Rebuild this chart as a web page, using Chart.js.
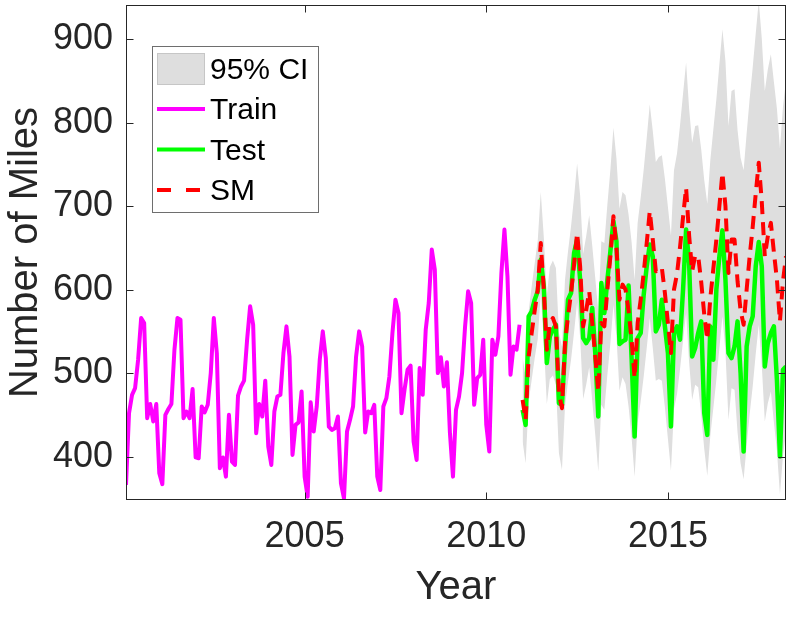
<!DOCTYPE html>
<html>
<head>
<meta charset="utf-8">
<title>Number of Miles</title>
<script src="https://cdn.jsdelivr.net/npm/chart.js@4.4.1/dist/chart.umd.min.js"></script>
<style>
  html, body { margin: 0; padding: 0; background: #fff; }
  #wrap { width: 787px; height: 617px; }
</style>
</head>
<body>
<div id="wrap"><canvas id="chartCanvas" width="787" height="617"></canvas></div>
<script>
// monthly values, train runs Feb 2000 - Dec 2010
var trainStart = 2000 + 1 / 12;
var trainMiles = [
  366, 452, 474, 482, 516, 566, 560, 446, 463, 442, 463, 380, 367, 450, 457, 463, 528, 566, 564, 446,
  454, 446, 481, 399, 398, 460, 453, 462, 500, 566, 524, 386, 399, 376, 450, 394, 390, 473, 484, 491,
  540, 580, 558, 428, 463, 448, 491, 412, 390, 454, 472, 474, 524, 556, 520, 402, 438, 441, 478, 376,
  352, 465, 430, 460, 516, 550, 518, 436, 432, 434, 448, 368, 350, 430, 444, 460, 520, 550, 532, 429,
  454, 452, 462, 376, 360, 460, 470, 496, 548, 588, 572, 452, 480, 504, 509, 418, 396, 506, 474, 552,
  584, 648, 624, 500, 519, 484, 513, 428, 376, 456, 472, 500, 556, 598, 584, 462, 494, 498, 540, 438,
  406, 540, 522, 544, 620, 672, 616, 498, 532, 528, 558
];

// test period Jan 2011 - Apr 2018
var testStart = 2011;
var testMiles = [
  456, 438, 568, 574, 588, 598, 636, 604, 512, 544, 552, 558, 464, 462, 528, 588, 596, 644, 660, 612,
  542, 536, 542, 578, 524, 448, 608, 572, 612, 646, 682, 658, 535, 538, 540, 605, 518, 424, 542, 548,
  594, 628, 654, 640, 550, 558, 588, 556, 524, 436, 548, 556, 540, 600, 672, 632, 520, 530, 548, 562,
  452, 426, 556, 516, 600, 640, 671, 612, 524, 518, 532, 562, 500, 406, 532, 556, 568, 628, 657, 628,
  508, 536, 548, 556, 492, 400, 504, 508
];
var smMiles = [
  468, 444, 520, 548, 575, 600, 656, 600, 528, 560, 566, 556, 476, 458, 536, 568, 596, 630, 668, 628,
  556, 575, 598, 560, 520, 478, 560, 556, 600, 640, 688, 650, 588, 606, 600, 575, 540, 494, 560, 588,
  620, 656, 694, 660, 622, 626, 626, 596, 560, 524, 600, 619, 651, 687, 722, 665, 622, 641, 640, 609,
  570, 540, 590, 625, 660, 700, 740, 700, 620, 660, 660, 610, 575, 558, 600, 640, 675, 715, 752, 705,
  640, 664, 680, 645, 612, 562, 610, 640
];
var ciUpper = [
  518, 496, 574, 604, 632, 659, 717, 663, 593, 627, 635, 626, 548, 532, 612, 646, 676, 711, 751, 713,
  643, 664, 689, 653, 614, 574, 658, 656, 702, 744, 794, 757, 697, 717, 713, 690, 657, 612, 680, 710,
  744, 782, 822, 790, 753, 759, 761, 733, 699, 665, 743, 763, 797, 835, 872, 817, 776, 796, 797, 768,
  731, 703, 755, 792, 828, 870, 912, 874, 796, 838, 840, 791, 758, 743, 787, 829, 866, 907, 946, 901,
  838, 864, 882, 849, 817, 769, 819, 851
];
var ciLower = [
  418, 392, 466, 492, 518, 541, 595, 537, 463, 493, 497, 486, 404, 384, 460, 490, 516, 549, 585, 543,
  469, 486, 507, 467, 426, 382, 462, 456, 498, 536, 582, 543, 479, 495, 487, 460, 423, 376, 440, 466,
  496, 530, 566, 530, 491, 493, 491, 459, 421, 383, 457, 475, 505, 539, 572, 513, 468, 486, 483, 450,
  409, 377, 425, 458, 492, 530, 568, 526, 444, 482, 480, 429, 392, 373, 413, 451, 484, 523, 558, 509,
  442, 464, 478, 441, 407, 355, 401, 429
];

var xTicks = [2005, 2010, 2015];
var yTicks = [400, 500, 600, 700, 800, 900];

var axisColor = '#262626';
var fontFamily = 'Arial, "Liberation Sans", Helvetica, sans-serif';

function toPoints(start, values) {
  return values.map(function (v, i) {
    return { x: start + i / 12, y: v };
  });
}

// box round the axes with inward ticks on all four sides
var axesBox = {
  id: 'axesBox',
  afterDatasetsDraw: function (chart) {
    var a = chart.chartArea, c = chart.ctx;
    var l = Math.round(a.left) + 0.5, r = Math.round(a.right) - 0.5;
    var t = Math.round(a.top) + 0.5, b = Math.round(a.bottom) - 0.5;
    c.save();
    c.strokeStyle = axisColor;
    c.lineWidth = 1;
    c.strokeRect(l, t, r - l, b - t);
    c.beginPath();
    chart.scales.x.ticks.forEach(function (tk) {
      var px = Math.round(chart.scales.x.getPixelForValue(tk.value)) + 0.5;
      c.moveTo(px, b); c.lineTo(px, b - 7);
      c.moveTo(px, t); c.lineTo(px, t + 7);
    });
    chart.scales.y.ticks.forEach(function (tk) {
      var py = Math.round(chart.scales.y.getPixelForValue(tk.value)) + 0.5;
      c.moveTo(l, py); c.lineTo(l + 7, py);
      c.moveTo(r, py); c.lineTo(r - 7, py);
    });
    c.stroke();
    c.restore();
  }
};

// legend box inside the plot, top left
var boxLegend = {
  id: 'boxLegend',
  afterDraw: function (chart) {
    var c = chart.ctx, ds = chart.data.datasets;
    c.save();
    c.fillStyle = '#ffffff';
    c.fillRect(152, 46, 167, 167);
    c.strokeStyle = '#6e6e6e';
    c.lineWidth = 1;
    c.strokeRect(152.5, 46.5, 166, 166);

    c.fillStyle = ds[0].backgroundColor;
    c.fillRect(157.5, 53.5, 47, 31);
    c.strokeStyle = '#c6c6c6';
    c.strokeRect(157.5, 53.5, 47, 31);

    var rows = [
      { d: ds[2], y: 109, dash: [] },
      { d: ds[3], y: 149.5, dash: [] },
      { d: ds[4], y: 190, dash: [14, 15] }
    ];
    rows.forEach(function (row) {
      c.beginPath();
      c.setLineDash(row.dash);
      c.strokeStyle = row.d.borderColor;
      c.lineWidth = 4;
      c.moveTo(157, row.y);
      c.lineTo(205, row.y);
      c.stroke();
    });
    c.setLineDash([]);

    c.fillStyle = '#000000';
    c.font = '30px ' + fontFamily;
    c.textBaseline = 'middle';
    c.textAlign = 'left';
    c.fillText(ds[0].label, 210, 71);
    c.fillText(ds[2].label, 210, 111);
    c.fillText(ds[3].label, 210, 151.5);
    c.fillText(ds[4].label, 210, 191.5);
    c.restore();
  }
};

var ctx = document.getElementById('chartCanvas').getContext('2d');
var chart = new Chart(ctx, {
  type: 'line',
  data: {
    datasets: [
      {
        label: '95% CI',
        data: toPoints(testStart, ciUpper),
        borderWidth: 0,
        borderColor: 'rgba(0,0,0,0)',
        backgroundColor: '#dedede',
        pointRadius: 0,
        fill: '+1',
        order: 4
      },
      {
        label: 'lower',
        data: toPoints(testStart, ciLower),
        borderWidth: 0,
        borderColor: 'rgba(0,0,0,0)',
        pointRadius: 0,
        fill: false,
        order: 3
      },
      {
        label: 'Train',
        data: toPoints(trainStart, trainMiles),
        borderColor: '#ff00ff',
        borderWidth: 4,
        pointRadius: 0,
        fill: false,
        order: 2
      },
      {
        label: 'Test',
        data: toPoints(testStart, testMiles),
        borderColor: '#00ff00',
        borderWidth: 4.5,
        pointRadius: 0,
        fill: false,
        order: 1
      },
      {
        label: 'SM',
        data: toPoints(testStart, smMiles),
        borderColor: '#ff0000',
        borderWidth: 4,
        borderDash: [13, 8],
        pointRadius: 0,
        fill: false,
        order: 0
      }
    ]
  },
  options: {
    responsive: false,
    animation: false,
    devicePixelRatio: 1,
    layout: { padding: { top: 5, right: 1, left: 0, bottom: 0 } },
    elements: { line: { tension: 0, borderJoinStyle: 'round', borderCapStyle: 'butt' } },
    plugins: {
      legend: { display: false },
      tooltip: { enabled: false },
      filler: { drawTime: 'beforeDatasetsDraw' }
    },
    scales: {
      x: {
        type: 'linear',
        min: trainStart,
        max: testStart + (testMiles.length - 1) / 12,
        grid: { display: false, drawTicks: false },
        border: { display: false },
        afterBuildTicks: function (s) {
          s.ticks = xTicks.map(function (v) { return { value: v }; });
        },
        afterFit: function (s) {
          s.height = 117;
          s.paddingLeft = 0; s.paddingRight = 0; s.paddingTop = 0; s.paddingBottom = 0;
        },
        ticks: {
          color: axisColor,
          font: { size: 36, family: fontFamily },
          padding: 15,
          maxRotation: 0,
          autoSkip: false,
          callback: function (v) { return String(v); }
        },
        title: {
          display: true,
          text: 'Year',
          color: axisColor,
          font: { size: 40, family: fontFamily },
          padding: { top: 0, bottom: 5 }
        }
      },
      y: {
        type: 'linear',
        min: 348,
        max: 941,
        grid: { display: false, drawTicks: false },
        border: { display: false },
        afterBuildTicks: function (s) {
          s.ticks = yTicks.map(function (v) { return { value: v }; });
        },
        afterFit: function (s) {
          s.width = 126;
          s.paddingLeft = 0; s.paddingRight = 0; s.paddingTop = 0; s.paddingBottom = 0;
        },
        ticks: {
          color: axisColor,
          font: { size: 36, family: fontFamily },
          padding: 13,
          autoSkip: false,
          callback: function (v) { return String(v); }
        },
        title: {
          display: true,
          text: 'Number of Miles',
          color: axisColor,
          font: { size: 40, family: fontFamily },
          padding: { top: 2, bottom: 0 }
        }
      }
    }
  },
  plugins: [axesBox, boxLegend]
});
</script>
</body>
</html>
